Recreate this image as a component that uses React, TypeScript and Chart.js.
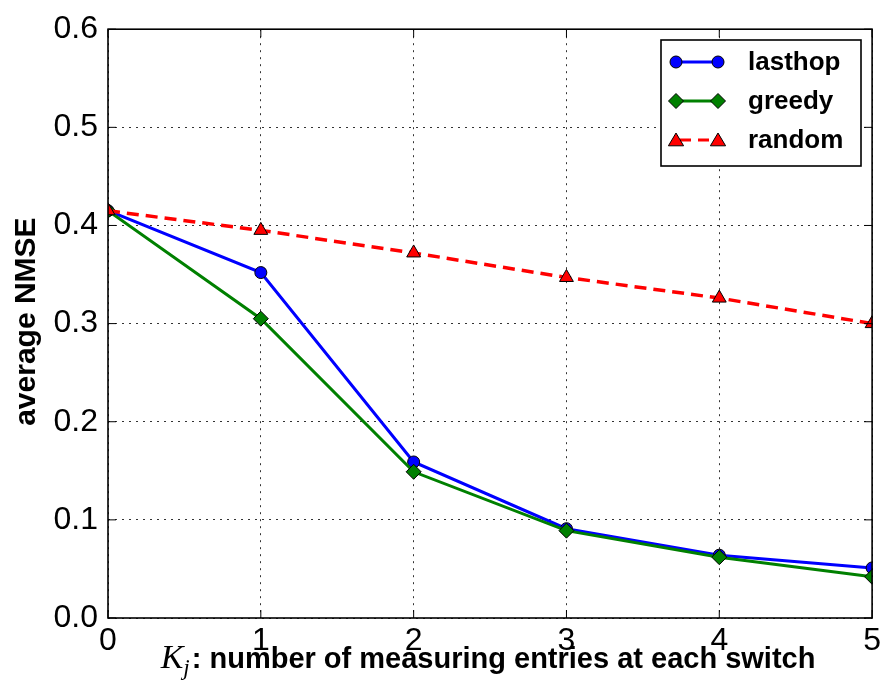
import React, { useEffect, useRef } from "react";
import { Chart, registerables } from "chart.js";

Chart.register(...registerables);

const categories = [0, 1, 2, 3, 4, 5];
const lasthop = [0.415, 0.352, 0.159, 0.091, 0.064, 0.051];
const greedy = [0.415, 0.305, 0.149, 0.089, 0.062, 0.042];
const random = [0.415, 0.395, 0.372, 0.347, 0.326, 0.3];
const seriesNames = ["lasthop", "greedy", "random"];
const yTicks = [0, 0.1, 0.2, 0.3, 0.4, 0.5, 0.6];
const xTitleMain = ": number of measuring entries at each switch";
const yTitle = "average NMSE";

const BLUE = "#0000ff";
const GREEN = "#008000";
const RED = "#ff0000";

function marker(ctx: CanvasRenderingContext2D, kind: string, x: number, y: number, r: number, fill: string) {
  ctx.save();
  ctx.setLineDash([]);
  ctx.fillStyle = fill;
  ctx.strokeStyle = "#000";
  ctx.lineWidth = 1;
  ctx.beginPath();
  if (kind === "circle") {
    ctx.arc(x, y, r, 0, Math.PI * 2);
  } else if (kind === "diamond") {
    ctx.moveTo(x, y - r);
    ctx.lineTo(x + r, y);
    ctx.lineTo(x, y + r);
    ctx.lineTo(x - r, y);
    ctx.closePath();
  } else {
    ctx.moveTo(x, y - r);
    ctx.lineTo(x + r * 0.95, y + r * 0.6);
    ctx.lineTo(x - r * 0.95, y + r * 0.6);
    ctx.closePath();
  }
  ctx.fill();
  ctx.stroke();
  ctx.restore();
}

const framePlugin = {
  id: "framePlugin",
  afterDatasetsDraw(chart: any) {
    const ctx: CanvasRenderingContext2D = chart.ctx;
    const { left, right, top, bottom } = chart.chartArea;
    const xs = chart.scales.x;
    const ys = chart.scales.y;
    ctx.save();
    ctx.strokeStyle = "#000";
    ctx.lineWidth = 1;
    ctx.setLineDash([]);
    categories.forEach((c) => {
      const px = xs.getPixelForValue(c);
      ctx.beginPath();
      ctx.moveTo(px, bottom);
      ctx.lineTo(px, bottom - 8);
      ctx.moveTo(px, top);
      ctx.lineTo(px, top + 8);
      ctx.stroke();
    });
    yTicks.forEach((v) => {
      const py = ys.getPixelForValue(v);
      ctx.beginPath();
      ctx.moveTo(left, py);
      ctx.lineTo(left + 8, py);
      ctx.moveTo(right, py);
      ctx.lineTo(right - 8, py);
      ctx.stroke();
    });
    ctx.lineWidth = 1.6;
    ctx.strokeRect(left, top, right - left, bottom - top);
    ctx.restore();
  },
  afterDraw(chart: any) {
    const ctx: CanvasRenderingContext2D = chart.ctx;
    const { left, right, top, bottom } = chart.chartArea;
    ctx.save();
    // Y title
    ctx.fillStyle = "#000";
    ctx.font = "bold 30px 'Liberation Sans', Arial, sans-serif";
    ctx.textAlign = "center";
    ctx.textBaseline = "alphabetic";
    ctx.translate(35, (top + bottom) / 2 - 2);
    ctx.rotate(-Math.PI / 2);
    ctx.fillText(yTitle, 0, 0);
    ctx.restore();

    // X title
    ctx.save();
    ctx.fillStyle = "#000";
    ctx.textBaseline = "alphabetic";
    ctx.textAlign = "left";
    const fK = "italic 34px 'Liberation Serif', 'DejaVu Serif', serif";
    const fj = "italic 23px 'Liberation Serif', 'DejaVu Serif', serif";
    const fm = "bold 29px 'Liberation Sans', Arial, sans-serif";
    ctx.font = fK;
    const wK = ctx.measureText("K").width;
    ctx.font = fj;
    const wj = ctx.measureText("j").width;
    ctx.font = fm;
    const wm = ctx.measureText(xTitleMain).width;
    const total = wK + wj + 2 + wm;
    let x0 = (left + right) / 2 - total / 2 - 2;
    const base = 668;
    ctx.font = fK;
    ctx.fillText("K", x0, base);
    x0 += wK;
    ctx.font = fj;
    ctx.fillText("j", x0, base + 7);
    x0 += wj + 2;
    ctx.font = fm;
    ctx.fillText(xTitleMain, x0, base);
    ctx.restore();

    // Legend
    ctx.save();
    const bx = 661, by = 40, bw = 200, bh = 126;
    ctx.fillStyle = "#fff";
    ctx.fillRect(bx, by, bw, bh);
    ctx.strokeStyle = "#000";
    ctx.lineWidth = 1.6;
    ctx.strokeRect(bx, by, bw, bh);
    const rows = [
      { name: seriesNames[0], color: BLUE, kind: "circle", r: 6, dash: [] as number[] },
      { name: seriesNames[1], color: GREEN, kind: "diamond", r: 7.5, dash: [] as number[] },
      { name: seriesNames[2], color: RED, kind: "triangle", r: 8, dash: [11, 7] },
    ];
    const ys0 = [62, 101, 140];
    rows.forEach((row, i) => {
      const yy = ys0[i];
      ctx.save();
      ctx.strokeStyle = row.color;
      ctx.lineWidth = 3;
      ctx.setLineDash(row.dash);
      if (row.dash.length) ctx.lineDashOffset = -4;
      ctx.beginPath();
      ctx.moveTo(676, yy);
      ctx.lineTo(718, yy);
      ctx.stroke();
      ctx.restore();
      marker(ctx, row.kind, 676, yy + (row.kind === "triangle" ? 1 : 0), row.r, row.color);
      marker(ctx, row.kind, 718, yy + (row.kind === "triangle" ? 1 : 0), row.r, row.color);
      ctx.fillStyle = "#000";
      ctx.font = "bold 26px 'Liberation Sans', Arial, sans-serif";
      ctx.textAlign = "left";
      ctx.textBaseline = "alphabetic";
      ctx.fillText(row.name, 748, yy + 8);
    });
    ctx.restore();
  },
};

export default function App() {
  const ref = useRef<HTMLCanvasElement | null>(null);
  useEffect(() => {
    if (!ref.current) return;
    const mk = (vals: number[]) => categories.map((c, i) => ({ x: c, y: vals[i] }));
    const chart = new Chart(ref.current, {
      type: "line",
      data: {
        datasets: [
          {
            label: seriesNames[0],
            data: mk(lasthop),
            borderColor: BLUE,
            backgroundColor: BLUE,
            borderWidth: 3,
            pointStyle: "circle",
            pointRadius: 6,
            pointBackgroundColor: BLUE,
            pointBorderColor: "#000",
            pointBorderWidth: 1,
            tension: 0,
            order: 3,
          },
          {
            label: seriesNames[1],
            data: mk(greedy),
            borderColor: GREEN,
            backgroundColor: GREEN,
            borderWidth: 3,
            pointStyle: "rectRot",
            pointRadius: 7.5,
            pointBackgroundColor: GREEN,
            pointBorderColor: "#000",
            pointBorderWidth: 1,
            tension: 0,
            order: 2,
          },
          {
            label: seriesNames[2],
            data: mk(random),
            borderColor: RED,
            backgroundColor: RED,
            borderWidth: 3.5,
            borderDash: [12, 7],
            pointStyle: "triangle",
            pointRadius: 8,
            pointBackgroundColor: RED,
            pointBorderColor: "#000",
            pointBorderWidth: 1,
            tension: 0,
            order: 1,
          },
        ],
      },
      options: {
        responsive: false,
        animation: false,
        layout: { padding: { top: 27, right: 11, left: 0, bottom: 0 } },
        plugins: { legend: { display: false }, tooltip: { enabled: false } },
        scales: {
          x: {
            type: "linear",
            min: 0,
            max: 5,
            afterFit: (s: any) => {
              s.height = 80;
            },
            ticks: {
              stepSize: 1,
              padding: 4,
              color: "#000",
              font: { family: "'Liberation Sans', Arial, sans-serif", size: 32 },
              maxRotation: 0,
            },
            grid: { color: "#333", lineWidth: 1, drawTicks: false },
            border: { display: false, dash: [2, 5] },
          },
          y: {
            type: "linear",
            min: 0,
            max: 0.6,
            afterFit: (s: any) => {
              s.width = 108;
            },
            ticks: {
              stepSize: 0.1,
              padding: 10,
              color: "#000",
              font: { family: "'Liberation Sans', Arial, sans-serif", size: 32 },
              callback: (v: any) => Number(v).toFixed(1),
            },
            grid: { color: "#333", lineWidth: 1, drawTicks: false },
            border: { display: false, dash: [2, 5] },
          },
        },
      },
      plugins: [framePlugin],
    });
    return () => chart.destroy();
  }, []);
  return (
    <div style={{ position: "absolute", left: 0, top: 0, width: 885, height: 698, background: "#fff" }}>
      <canvas ref={ref} width={885} height={698} style={{ width: 885, height: 698, display: "block" }} />
    </div>
  );
}
